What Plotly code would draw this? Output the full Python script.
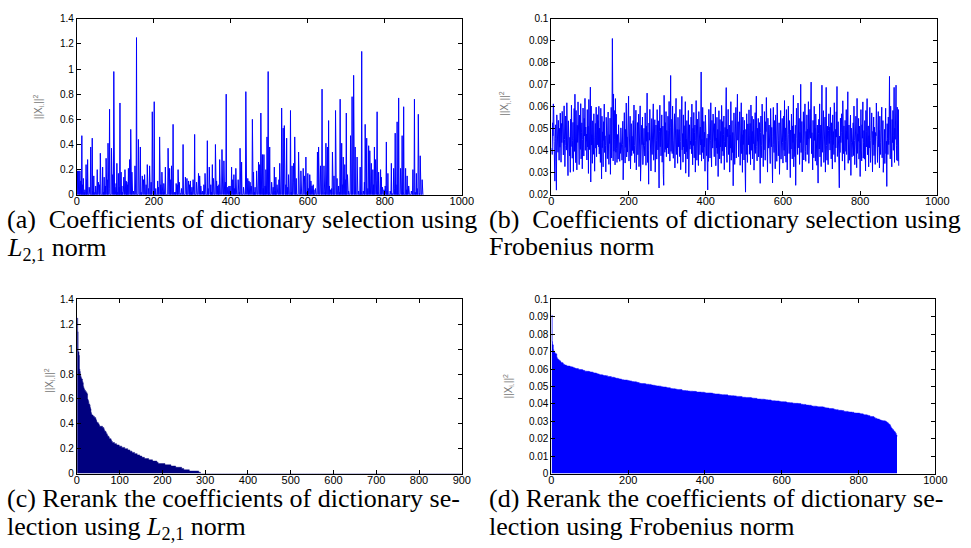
import plotly.graph_objects as go

N = 900
# (a) nonzero coefficients: index -> value (all other indices are 0)
a_idx = [2, 5, 8, 10, 11, 13, 15, 17, 19, 21, 24, 26, 28, 32, 36, 40, 42, 44, 47, 49,
         53, 56, 59, 61, 67, 69, 71, 74, 76, 79, 81, 84, 85, 90, 93, 96, 99, 102, 104, 106,
         108, 110, 112, 115, 117, 119, 121, 122, 125, 128, 130, 132, 134, 137, 140, 143, 147, 151, 155, 160,
         165, 167, 170, 173, 176, 180, 183, 186, 189, 193, 196, 201, 203, 205, 210, 212, 215, 218, 221, 224,
         226, 230, 237, 241, 244, 246, 250, 254, 256, 258, 261, 263, 266, 269, 272, 276, 282, 286, 290, 293,
         295, 297, 299, 302, 306, 311, 316, 319, 322, 327, 330, 333, 339, 341, 344, 348, 350, 352, 355, 360,
         363, 366, 369, 371, 377, 382, 386, 388, 392, 395, 398, 400, 402, 405, 408, 410, 413, 419, 422, 424,
         428, 433, 439, 444, 447, 450, 453, 456, 459, 461, 463, 467, 472, 475, 478, 482, 484, 486, 489, 491,
         494, 497, 499, 501, 506, 510, 513, 515, 517, 520, 525, 527, 532, 536, 539, 543, 545, 548, 550, 555,
         557, 559, 562, 563, 566, 570, 576, 582, 588, 591, 595, 597, 600, 602, 605, 608, 611, 614, 616, 620,
         625, 628, 633, 637, 642, 645, 647, 651, 654, 656, 659, 662, 664, 668, 672, 676, 680, 682, 684, 688,
         690, 692, 696, 698, 700, 703, 706, 711, 715, 719, 723, 728, 732, 736, 738, 740, 744, 747, 749, 753,
         756, 758, 761, 765, 769, 771, 773, 776, 779, 780, 782, 784, 789, 791, 794, 798, 801, 804, 806, 808,
         814, 817, 819, 823, 826, 827, 829, 832, 834, 836, 841, 845, 847, 849, 854, 856, 858, 862, 869, 873,
         877, 879, 882, 884, 887, 890, 892, 897]
a_val = [0.19, 0.19, 0.19, 0.11, 0.05, 0.47, 0.08, 0.13, 0.02, 0.04, 0.24, 0.12, 0.28, 0.06, 0.38, 0.45, 0.03, 0.15, 0.02, 0.07,
         0.20, 0.10, 0.08, 0.33, 0.22, 0.02, 0.14, 0.07, 0.29, 0.12, 0.41, 0.05, 0.68, 0.37, 0.16, 0.98, 0.06, 0.09, 0.25, 0.02,
         0.17, 0.06, 0.73, 0.18, 0.07, 0.02, 0.03, 0.14, 0.20, 0.11, 0.10, 0.08, 0.21, 0.28, 0.52, 0.18, 0.03, 0.23, 1.25, 0.44,
         0.38, 0.02, 0.15, 0.12, 0.16, 0.08, 0.24, 0.05, 0.23, 0.10, 0.66, 0.74, 0.03, 0.05, 0.11, 0.06, 0.46, 0.08, 0.18, 0.02,
         0.09, 0.22, 0.37, 0.21, 0.12, 0.23, 0.56, 0.02, 0.02, 0.09, 0.08, 0.20, 0.10, 0.01, 0.05, 0.40, 0.14, 0.13, 0.11, 0.08,
         0.11, 0.02, 0.06, 0.12, 0.48, 0.10, 0.17, 0.15, 0.07, 0.03, 0.08, 0.17, 0.43, 0.05, 0.22, 0.08, 0.02, 0.24, 0.13, 0.40,
         0.11, 0.07, 0.08, 0.28, 0.36, 0.27, 0.10, 0.80, 0.06, 0.07, 0.07, 0.03, 0.22, 0.12, 0.16, 0.05, 0.21, 0.12, 0.02, 0.37,
         0.26, 0.06, 0.82, 0.13, 0.11, 0.10, 0.07, 0.60, 0.18, 0.02, 0.06, 0.19, 0.26, 0.24, 0.65, 0.32, 0.05, 0.32, 0.07, 0.20,
         0.46, 0.98, 0.02, 0.38, 0.10, 0.06, 0.22, 0.03, 0.14, 0.08, 0.12, 0.25, 0.69, 0.53, 0.55, 0.08, 0.45, 0.06, 0.16, 0.67,
         0.02, 0.23, 0.10, 0.25, 0.46, 0.13, 0.34, 0.19, 0.21, 0.15, 0.30, 0.02, 0.17, 0.05, 0.16, 0.11, 0.07, 0.08, 0.04, 0.05,
         0.34, 0.38, 0.23, 0.84, 0.23, 0.02, 0.41, 0.38, 0.59, 0.07, 0.04, 0.05, 0.34, 0.15, 0.67, 0.13, 0.07, 0.02, 0.76, 0.41,
         0.08, 0.30, 0.24, 0.12, 0.65, 0.16, 0.03, 0.47, 0.78, 0.95, 0.38, 0.30, 0.03, 0.22, 0.02, 1.14, 0.03, 0.10, 0.56, 0.45,
         0.05, 0.39, 0.35, 0.25, 0.20, 0.08, 0.38, 0.28, 0.11, 0.66, 0.02, 0.18, 0.20, 0.14, 0.06, 0.04, 0.07, 0.42, 0.03, 0.17,
         0.03, 0.25, 0.01, 0.21, 0.05, 0.49, 0.08, 0.58, 0.01, 0.77, 0.21, 0.47, 0.02, 0.70, 0.21, 0.04, 0.15, 0.07, 0.03, 0.20,
         0.76, 0.02, 0.17, 0.05, 0.64, 0.01, 0.31, 0.12]

# (b) coefficients, in units of 1e-4
b_e4 = [
 412, 383, 527, 468, 613, 586, 441, 374, 262, 455, 518, 352, 221, 563, 429, 484, 393, 538, 471, 357, 502, 416, 571, 463, 348, 524, 437, 579, 408, 466,
 381, 517, 604, 452, 328, 423, 558, 487, 403, 618, 354, 469, 287, 536, 432, 513, 377, 461, 302, 544, 419, 607, 476, 366, 446, 529, 306, 454, 592, 397,
 657, 425, 346, 583, 474, 313, 516, 438, 622, 394, 498, 337, 562, 458, 406, 614, 363, 482, 527, 318, 451, 594, 434, 376, 547, 467, 638, 402, 508, 443,
 476, 358, 587, 417, 512, 297, 633, 448, 405, 553, 689, 258, 603, 426, 473, 343, 536, 421, 384, 568, 493, 307, 459, 524, 412, 598, 373, 456, 564, 427,
 537, 418, 602, 385, 503, 462, 347, 593, 436, 272, 557, 414, 486, 327, 532, 447, 612, 392, 468, 424, 304, 552, 438, 507, 364, 494, 576, 408, 338, 473,
 433, 548, 293, 477, 597, 367, 513, 910, 423, 354, 658, 398, 583, 452, 336, 637, 393, 566, 411, 347, 474, 403, 362, 518, 386, 453, 352, 437, 388, 504,
 397, 483, 357, 428, 534, 268, 446, 383, 573, 412, 344, 497, 416, 617, 372, 463, 394, 543, 427, 648, 353, 478, 407, 557, 318, 442, 523, 378, 466, 401,
 463, 537, 388, 608, 423, 346, 504, 437, 584, 313, 472, 396, 528, 382, 487, 566, 328, 453, 414, 604, 262, 483, 371, 516, 428, 553, 337, 476, 409, 502,
 424, 376, 572, 457, 334, 513, 443, 662, 347, 484, 402, 248, 526, 448, 588, 392, 467, 308, 417, 546, 383, 498, 436, 613, 357, 464, 411, 541, 303, 477,
 517, 446, 362, 587, 473, 404, 536, 327, 231, 486, 607, 418, 503, 377, 454, 563, 348, 432, 512, 292, 243, 652, 457, 393, 528, 406, 578, 373, 492, 438,
 413, 557, 386, 493, 624, 428, 353, 507, 742, 397, 474, 543, 387, 603, 447, 366, 517, 434, 568, 322, 476, 408, 638, 383, 462, 497, 343, 552, 418, 472,
 496, 374, 588, 443, 314, 527, 457, 647, 404, 478, 348, 563, 417, 514, 386, 467, 623, 298, 453, 396, 537, 363, 487, 433, 583, 282, 461, 518, 407, 444,
 428, 553, 387, 612, 463, 336, 502, 424, 574, 368, 483, 517, 303, 447, 628, 402, 357, 544, 438, 492, 333, 578, 413, 468, 382, 508, 426, 758, 353, 452,
 392, 597, 472, 364, 533, 418, 484, 307, 562, 443, 503, 378, 457, 398, 222, 476, 352, 588, 434, 512, 367, 448, 618, 403, 327, 538, 463, 412, 567, 437,
 478, 373, 523, 446, 598, 332, 458, 413, 552, 387, 497, 283, 432, 582, 467, 363, 542, 417, 488, 343, 606, 454, 398, 533, 377, 473, 558, 314, 442, 506,
 417, 562, 687, 403, 347, 498, 463, 588, 383, 428, 517, 303, 471, 412, 623, 357, 452, 537, 392, 483, 241, 433, 572, 458, 338, 513, 437, 597, 367, 486,
 403, 657, 448, 532, 373, 477, 423, 577, 334, 508, 442, 618, 387, 473, 302, 553, 428, 493, 358, 538, 407, 463, 212, 497, 383, 568, 437, 347, 522, 456,
 427, 586, 384, 468, 524, 337, 608, 454, 402, 557, 363, 488, 432, 543, 312, 477, 414, 573, 388, 462, 648, 418, 354, 502, 443, 547, 372, 467, 528, 397,
 252, 482, 558, 423, 368, 612, 447, 508, 328, 473, 404, 578, 438, 357, 532, 487, 642, 393, 426, 303, 548, 457, 412, 517, 381, 468, 342, 592, 453, 418,
 506, 373, 254, 463, 597, 427, 392, 537, 474, 318, 563, 407, 483, 352, 617, 438, 503, 377, 448, 527, 293, 472, 417, 583, 362, 487, 403, 547, 436, 344,
 467, 558, 402, 628, 376, 504, 443, 348, 587, 462, 313, 518, 424, 603, 473, 387, 537, 432, 278, 494, 408, 567, 452, 363, 513, 438, 652, 327, 477, 404,
 373, 516, 243, 457, 593, 428, 497, 383, 617, 447, 413, 547, 338, 483, 437, 702, 392, 468, 533, 304, 463, 418, 577, 358, 507, 443, 613, 397, 352, 488,
 427, 563, 383, 498, 453, 623, 343, 472, 407, 588, 457, 527, 712, 387, 482, 417, 313, 538, 444, 368, 602, 447, 503, 353, 567, 423, 468, 334, 517, 403,
 253, 477, 543, 408, 613, 372, 463, 517, 328, 437, 698, 393, 502, 427, 582, 347, 473, 398, 553, 303, 448, 688, 424, 357, 512, 457, 337, 493, 568, 433,
 508, 403, 597, 447, 363, 527, 472, 317, 563, 428, 487, 383, 618, 442, 348, 497, 413, 577, 462, 692, 374, 453, 532, 298, 418, 232, 467, 392, 548, 437,
 483, 568, 417, 353, 627, 463, 387, 513, 437, 312, 538, 474, 397, 587, 383, 488, 452, 668, 343, 427, 517, 357, 464, 412, 562, 288, 503, 438, 373, 468,
 414, 527, 378, 603, 447, 337, 498, 423, 557, 472, 323, 638, 388, 477, 443, 547, 362, 512, 433, 283, 467, 587, 403, 354, 518, 457, 622, 367, 438, 492,
 362, 537, 453, 308, 583, 417, 487, 637, 382, 458, 513, 327, 468, 413, 597, 446, 347, 528, 403, 572, 457, 304, 488, 427, 553, 378, 507, 422, 338, 483,
 468, 617, 398, 533, 347, 452, 578, 418, 493, 322, 557, 437, 383, 512, 463, 598, 368, 427, 537, 302, 473, 408, 497, 342, 448, 593, 387, 443, 238, 523,
 457, 383, 553, 428, 497, 738, 447, 363, 603, 407, 483, 327, 542, 437, 583, 402, 468, 688, 347, 503, 452, 617, 698, 423, 357, 598, 432, 353, 587, 332,
]

x_vals = list(range(1, N + 1))
a_full = [0.0] * N
for i, v in zip(a_idx, a_val):
    a_full[i - 1] = v
b_full = [v / 10000 for v in b_e4]
c_sorted = sorted(a_full, reverse=True)
d_sorted = sorted(b_full, reverse=True)

W, H = 971, 548
def xd(l, r):
    return [l / W, r / W]
def yd(t, b):
    return [1 - b / H, 1 - t / H]

fig = go.Figure()
fig.add_trace(go.Scatter(x=x_vals, y=a_full, mode="lines", line=dict(color="#0000FF", width=1),
                         xaxis="x", yaxis="y", showlegend=False))
fig.add_trace(go.Scatter(x=x_vals, y=b_full, mode="lines", line=dict(color="#0000FF", width=1),
                         xaxis="x2", yaxis="y2", showlegend=False))
fig.add_trace(go.Scatter(x=x_vals, y=c_sorted, mode="lines", line=dict(color="#00007F", width=0.5, shape="hv"),
                         fill="tozeroy", fillcolor="#00007F", xaxis="x3", yaxis="y3", showlegend=False))
fig.add_trace(go.Scatter(x=x_vals, y=d_sorted, mode="lines", line=dict(color="#0000FF", width=0.5, shape="hv"),
                         fill="tozeroy", fillcolor="#0000FF", xaxis="x4", yaxis="y4", showlegend=False))

def ax(domain, rng, dtick, anchor, size, standoff):
    return dict(domain=domain, range=rng, dtick=dtick, tick0=0, anchor=anchor,
                showline=True, linecolor="black", linewidth=1, mirror="ticks",
                ticks="inside", ticklen=4, tickcolor="black", tickwidth=1,
                showgrid=False, zeroline=False, ticklabelstandoff=standoff,
                tickfont=dict(family="Liberation Sans, Arial, sans-serif", size=size, color="black"))

fig.update_layout(
    width=W, height=H, margin=dict(l=0, r=0, t=0, b=0),
    paper_bgcolor="white", plot_bgcolor="white",
    xaxis=ax(xd(75, 466), [0, 1000], 200, "y", 11, -4),
    yaxis=ax(yd(13, 193), [0, 1.4], 0.2, "x", 10, 0),
    xaxis2=ax(xd(557, 949), [0, 1000], 200, "y2", 11, -4),
    yaxis2=ax(yd(13, 193), [0.02, 0.1], 0.01, "x2", 10, 0),
    xaxis3=ax(xd(75, 466), [0, 900], 100, "y3", 11, -4),
    yaxis3=ax(yd(300, 478), [0, 1.4], 0.2, "x3", 10, 0),
    xaxis4=ax(xd(557, 947), [0, 1000], 200, "y4", 11, -4),
    yaxis4=ax(yd(300, 478), [0, 0.1], 0.01, "x4", 10, 0),
)

ylab = "||X<sub>i.</sub>||<sup>2</sup>"
labfont = dict(family="Liberation Sans, Arial, sans-serif", size=10, color="#777777")
for (px, py) in [(36, 103), (510, 100), (47, 383), (513, 389)]:
    fig.add_annotation(text=ylab, x=px / W, y=1 - py / H, xref="paper", yref="paper",
                       showarrow=False, textangle=-90, font=labfont,
                       xanchor="center", yanchor="middle")

capfont = dict(family="Liberation Serif, Times New Roman, serif", size=26, color="black")
captions = [
    ("(a)&nbsp; Coefficients of dictionary selection using", 2, 218),
    ("<i>L</i><sub>2,1</sub> norm", 2, 248),
    ("(b)&nbsp; Coefficients of dictionary selection using", 492, 218),
    ("Frobenius norm", 492, 246),
    ("(c) Rerank the coefficients of dictionary se-", 2, 504),
    ("lection using <i>L</i><sub>2,1</sub> norm", 2, 534),
    ("(d) Rerank the coefficients of dictionary se-", 492, 504),
    ("lection using Frobenius norm", 492, 532),
]
for txt, px, py in captions:
    fig.add_annotation(text=txt, x=px / W, y=1 - py / H, xref="paper", yref="paper",
                       showarrow=False, font=capfont, xanchor="left", yanchor="middle",
                       align="left")

fig.write_html("out.html")
